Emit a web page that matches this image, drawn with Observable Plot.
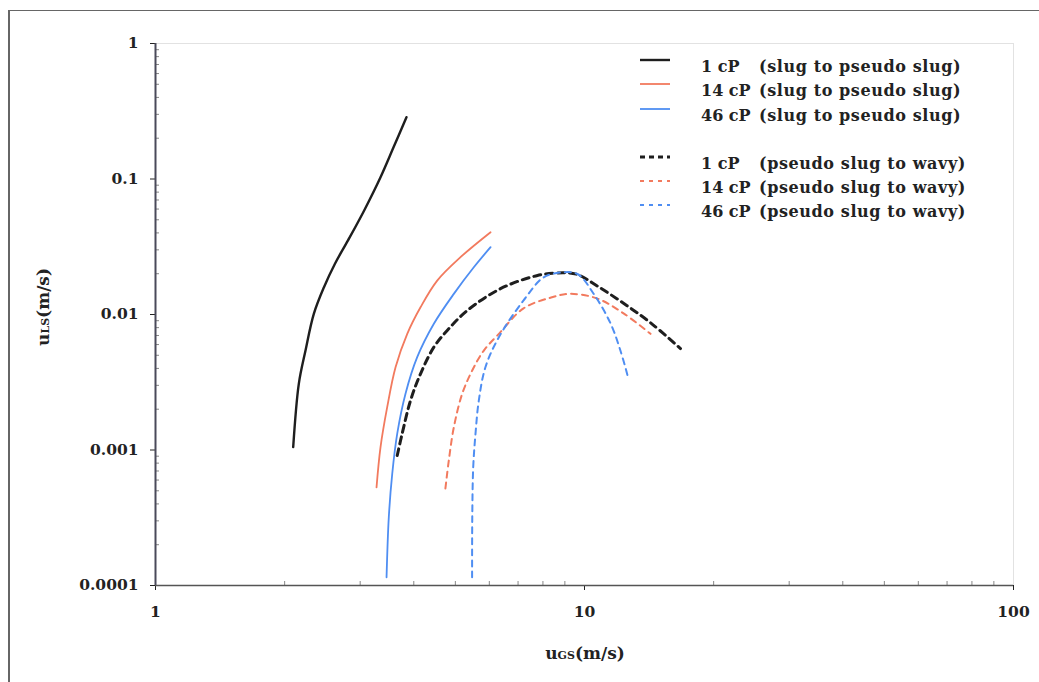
<!DOCTYPE html>
<html><head><meta charset="utf-8">
<script src="https://cdn.jsdelivr.net/npm/d3@7"></script>
<script src="https://cdn.jsdelivr.net/npm/@observablehq/plot@0.6"></script>
<style>
body{margin:0;background:#fff;}
#wrap{position:relative;width:1039px;height:682px;overflow:hidden;font-family:"DejaVu Serif",serif;background:#fff;}
#wrap svg{position:absolute;left:0;top:0;}
.bt{position:absolute;left:8px;top:10px;right:0;height:0;border-top:1.5px solid #666;}
.bl{position:absolute;left:8px;top:10px;bottom:0;width:0;border-left:2px solid #666;}
#legend{position:absolute;left:640px;top:57px;font-weight:bold;font-size:16px;color:#222;}
.row{position:relative;height:24.3px;white-space:nowrap;}
.row svg{position:absolute;left:2px;top:8px;}
.row .a{position:absolute;left:61px;top:0;}
.row .b{position:absolute;left:119px;top:0;letter-spacing:0.6px;}
.gap{height:24px;}
</style></head><body>
<div id="wrap"><div class="bt"></div><div class="bl"></div></div>
<script>
// Data (uGS in m/s, uLS in m/s)
const slug1cP = [[2.094,0.00105],[2.158,0.00308],[2.237,0.00542],[2.339,0.0101],[2.47,0.0159],[2.62,0.0237],[2.81,0.0352],[3.065,0.0586],[3.346,0.103],[3.59,0.172],[3.846,0.286]];
const slug14cP = [[3.275,0.00053],[3.346,0.00105],[3.468,0.00207],[3.627,0.00408],[3.862,0.0072],[4.147,0.0113],[4.536,0.0178],[5.14,0.0265],[6.04,0.0405]];
const slug46cP = [[3.456,0.000115],[3.498,0.000319],[3.563,0.000667],[3.66,0.00132],[3.826,0.0026],[4.074,0.00484],[4.455,0.00854],[4.959,0.0142],[5.52,0.0223],[6.04,0.0314]];
const wavy1cP = [[3.66,0.00091],[3.758,0.00132],[3.931,0.00232],[4.147,0.00365],[4.455,0.00574],[4.786,0.00762],[5.33,0.0107],[6.37,0.0155],[7.77,0.0194],[8.9,0.0203],[9.6,0.0198],[10.72,0.0162],[12.33,0.0121],[14.25,0.0087],[16.74,0.0056]];
const wavy14cP = [[4.74,0.00052],[4.828,0.00084],[4.959,0.00147],[5.187,0.0026],[5.473,0.00386],[5.825,0.00542],[6.315,0.0072],[7.21,0.0111],[8.33,0.0133],[9.27,0.0142],[10.72,0.0131],[12.33,0.0102],[14.25,0.0072]];
const wavy46cP = [[5.47,0.000115],[5.475,0.000319],[5.503,0.000746],[5.571,0.00132],[5.671,0.00232],[5.875,0.00408],[6.315,0.0068],[7.21,0.0127],[8.03,0.0188],[8.79,0.0204],[9.63,0.0199],[10.49,0.0143],[11.5,0.0086],[12.13,0.0054],[12.6,0.00355]];

const legendNames = ["1 cP","14 cP","46 cP","1 cP","14 cP","46 cP"];
const legendDesc = ["(slug to pseudo slug)","(slug to pseudo slug)","(slug to pseudo slug)","(pseudo slug to wavy)","(pseudo slug to wavy)","(pseudo slug to wavy)"];

const xTicks = [1,10,100];
const xTickLabels = ["1","10","100"];
const yTicks = [0.0001,0.001,0.01,0.1,1];
const yTickLabels = ["0.0001","0.001","0.01","0.1","1"];

const BLACK = "#1e1e1e", ORANGE = "#f27a5e", BLUE = "#4f8ef2";

const series = [
  {data: slug1cP, stroke: BLACK, w: 2.4, dash: null},
  {data: slug14cP, stroke: ORANGE, w: 1.8, dash: null},
  {data: slug46cP, stroke: BLUE, w: 1.8, dash: null},
  {data: wavy1cP, stroke: BLACK, w: 3, dash: "7,5"},
  {data: wavy14cP, stroke: ORANGE, w: 2, dash: "6,5"},
  {data: wavy46cP, stroke: BLUE, w: 2, dash: "6,5"}
];

const xMinor = [];
for (const d of [1,10]) for (let k=2;k<=9;k++) xMinor.push(d*k);
const yMinor = [];
for (const d of [0.0001,0.001,0.01,0.1]) for (let k=2;k<=9;k++) yMinor.push(+(d*k).toPrecision(3));

const xLab = d => xTickLabels[xTicks.findIndex(t => Math.abs(t - d) < 1e-9 * t)] ?? "";
const yLab = d => yTickLabels[yTicks.findIndex(t => Math.abs(t - d) < 1e-9 * t)] ?? "";

const chart = Plot.plot({
  width: 1039, height: 682,
  marginLeft: 155, marginRight: 26, marginTop: 43, marginBottom: 97,
  style: {fontFamily: "DejaVu Serif, serif", background: "transparent", overflow: "visible", color: "#222"},
  x: {type: "log", domain: [1,100]},
  y: {type: "log", domain: [0.0001,1]},
  marks: [
    Plot.frame({stroke: "#e2e2e2", strokeWidth: 1}),
    Plot.axisX({ticks: xMinor, tickSize: -4, tickFormat: () => "", stroke: "#888", label: null}),
    Plot.axisY({ticks: yMinor, tickSize: -4, tickFormat: () => "", stroke: "#888", label: null}),
    Plot.axisX({ticks: xTicks, tickSize: 5, tickPadding: 15, tickFormat: xLab, label: null, fontSize: 15.5, fontWeight: "bold"}),
    Plot.axisY({ticks: yTicks, tickSize: 5, tickPadding: 12, tickFormat: yLab, label: null, fontSize: 15.5, fontWeight: "bold"}),
    Plot.ruleY([0.0001], {stroke: "#555", strokeWidth: 1.3}),
    Plot.ruleX([1], {stroke: "#4a4a5a", strokeWidth: 2}),
    ...series.map(s => Plot.line(s.data, {x: d => d[0], y: d => d[1], stroke: s.stroke, strokeWidth: s.w, strokeDasharray: s.dash, curve: "catmull-rom"}))
  ]
});

const wrap = document.getElementById("wrap");
wrap.insertBefore(chart, wrap.firstChild);

// Axis titles with subscripts
const svg = d3.select(chart);
const yl = svg.append("text").attr("transform", "translate(49,307) rotate(-90)").attr("text-anchor","middle")
  .attr("font-size", 17).attr("font-weight","bold").attr("fill","#222");
yl.append("tspan").text("u");
yl.append("tspan").attr("font-size", 11).text("LS");
yl.append("tspan").text("(m/s)");
const xl = svg.append("text").attr("transform", "translate(585,659)").attr("text-anchor","middle")
  .attr("font-size", 17).attr("font-weight","bold").attr("fill","#222");
xl.append("tspan").text("u");
xl.append("tspan").attr("font-size", 11).text("GS");
xl.append("tspan").text("(m/s)");

// Legend
const lg = document.createElement("div");
lg.id = "legend";
legendNames.forEach((n, i) => {
  if (i === 3) { const g = document.createElement("div"); g.className = "gap"; lg.appendChild(g); }
  const s = series[i];
  const r = document.createElement("div");
  r.className = "row";
  r.innerHTML = `<svg width="32" height="6"><line x1="0" x2="30" y1="3" y2="3" stroke="${s.stroke}" stroke-width="${s.w}" ${s.dash ? `stroke-dasharray="${i===3?"5,4":"4,5"}"` : ""}/></svg><span class="a">${n}</span><span class="b">${legendDesc[i]}</span>`;
  lg.appendChild(r);
});
wrap.appendChild(lg);
</script>
</body></html>
